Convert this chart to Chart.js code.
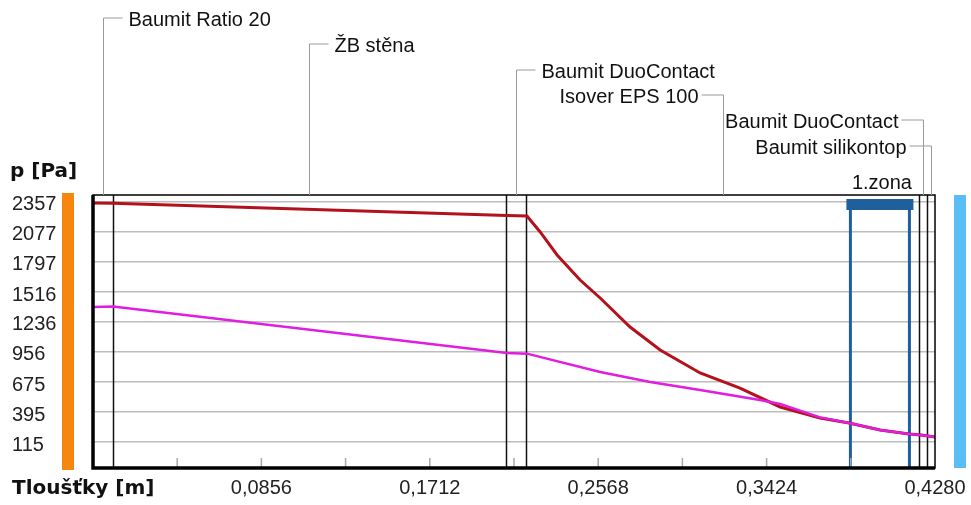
<!DOCTYPE html>
<html>
<head>
<meta charset="utf-8">
<script src="https://cdn.jsdelivr.net/npm/chart.js@4.4.1/dist/chart.umd.min.js"></script>
<style>
  html, body { margin: 0; padding: 0; background: #fff; }
  #wrap { width: 971px; height: 505px; }
</style>
</head>
<body>
<div id="wrap"><canvas id="chart" width="971" height="505"></canvas></div>
<script>
// thickness axis [m]
const xMax = 0.428;
const xTicks = [0.0856, 0.1712, 0.2568, 0.3424, 0.428];
const xMinor = [0.0428, 0.0856, 0.1284, 0.1712, 0.214, 0.2568, 0.2996, 0.3424, 0.3852];
// pressure axis [Pa]
const yTicks = [115, 395, 675, 956, 1236, 1516, 1797, 2077, 2357];

// saturated vapour pressure (red)
const satX = [0, 0.0102, 0.2104, 0.2206, 0.2273, 0.2359, 0.2476, 0.2578, 0.2730, 0.2883, 0.3086, 0.3289, 0.3493, 0.3696, 0.3843, 0.4001, 0.4148, 0.4209, 0.428];
const satP = [2348, 2345, 2230, 2226, 2077, 1862, 1628, 1460, 1189, 974, 760, 619, 442, 339, 292, 227, 190, 180, 162];

// partial vapour pressure (magenta)
const parX = [0, 0.0102, 0.2104, 0.2206, 0.2578, 0.2832, 0.3086, 0.3391, 0.3493, 0.3696, 0.3843, 0.4001, 0.4148, 0.4209, 0.428];
const parP = [1376, 1380, 946, 940, 769, 675, 601, 507, 470, 345, 292, 227, 190, 180, 162];

// layers
const layerBounds = [0, 0.010, 0.210, 0.220, 0.420, 0.424, 0.428];
const layerNames = ['Baumit Ratio 20', 'ŽB stěna', 'Baumit DuoContact', 'Isover EPS 100', 'Baumit DuoContact', 'Baumit silikontop'];

// condensation zone
const zoneFrom = 0.385;
const zoneTo = 0.415;
const zoneName = '1.zona';

const toPoints = (xs, ys) => xs.map((x, i) => ({ x: x, y: ys[i] }));

const labelFont = '20px "Liberation Sans", Arial, sans-serif';
const boldFont = 'bold 20px "DejaVu Sans", Verdana, sans-serif';

const decor = {
  id: 'decor',
  beforeDatasetsDraw(chart) {
    const { ctx, chartArea: a, scales: { x } } = chart;
    ctx.save();
    // layer boundaries
    ctx.strokeStyle = '#111';
    ctx.lineWidth = 1.5;
    layerBounds.slice(1, -1).forEach(b => {
      const px = Math.round(x.getPixelForValue(b)) + 0.5;
      ctx.beginPath();
      ctx.moveTo(px, a.top);
      ctx.lineTo(px, a.bottom);
      ctx.stroke();
    });
    // zone lines
    ctx.strokeStyle = '#1f5f9b';
    ctx.lineWidth = 3;
    [zoneFrom, zoneTo].forEach(z => {
      const px = x.getPixelForValue(z);
      ctx.beginPath();
      ctx.moveTo(px, a.top + 4);
      ctx.lineTo(px, a.bottom);
      ctx.stroke();
    });
    // minor ticks on bottom
    ctx.strokeStyle = '#aaa';
    ctx.lineWidth = 1.5;
    xMinor.forEach(t => {
      const px = x.getPixelForValue(t);
      ctx.beginPath();
      ctx.moveTo(px, a.bottom);
      ctx.lineTo(px, a.bottom - 10);
      ctx.stroke();
    });
    ctx.restore();
  },
  afterDraw(chart) {
    const { ctx, chartArea: a, scales: { x } } = chart;
    ctx.save();
    // frame
    ctx.strokeStyle = '#000';
    ctx.lineWidth = 1.5;
    ctx.strokeRect(a.left, a.top, a.right - a.left, a.bottom - a.top);
    ctx.lineWidth = 3.5;
    ctx.beginPath();
    ctx.moveTo(a.left, a.top);
    ctx.lineTo(a.left, a.bottom);
    ctx.lineTo(a.right, a.bottom);
    ctx.stroke();

    // zone bar
    const z1 = x.getPixelForValue(zoneFrom), z2 = x.getPixelForValue(zoneTo);
    ctx.fillStyle = '#1f5f9b';
    ctx.fillRect(z1 - 4, a.top + 4, z2 - z1 + 8, 11);

    // side bars
    ctx.fillStyle = '#f7860f';
    ctx.fillRect(a.left - 31, a.top - 2, 12, a.bottom - a.top + 4);
    ctx.fillStyle = '#5bbdf5';
    ctx.fillRect(a.right + 19, a.top, 12, a.bottom - a.top);

    // axis titles
    ctx.fillStyle = '#111';
    ctx.font = boldFont;
    ctx.textAlign = 'left';
    ctx.textBaseline = 'alphabetic';
    ctx.fillText('p [Pa]', 10, 177);
    ctx.fillText('Tloušťky [m]', 12, 494);

    // layer labels with leader lines
    const rows = [20, 46, 72, 97, 122, 148];
    const sides = ['r', 'r', 'r', 'l', 'l', 'l'];
    ctx.font = labelFont;
    ctx.textBaseline = 'middle';
    layerNames.forEach((name, i) => {
      const lx = Math.round(x.getPixelForValue((layerBounds[i] + layerBounds[i + 1]) / 2)) + 0.5;
      const ly = rows[i];
      ctx.strokeStyle = '#9a9a9a';
      ctx.lineWidth = 1;
      ctx.beginPath();
      ctx.moveTo(lx, a.top);
      ctx.lineTo(lx, ly - 2);
      if (sides[i] === 'r') ctx.lineTo(lx + 19, ly - 2);
      else ctx.lineTo(lx - 22, ly - 2);
      ctx.stroke();
      ctx.fillStyle = '#111';
      if (sides[i] === 'r') {
        ctx.textAlign = 'left';
        ctx.fillText(name, lx + 25, ly);
      } else {
        ctx.textAlign = 'right';
        ctx.fillText(name, lx - 25, ly);
      }
    });
    ctx.textAlign = 'center';
    ctx.fillText(zoneName, (z1 + z2) / 2 + 2, 183);
    ctx.restore();
  }
};

new Chart(document.getElementById('chart'), {
  type: 'line',
  data: {
    datasets: [
      {
        label: 'p',
        data: toPoints(parX, parP),
        borderColor: '#e01ee0',
        borderWidth: 2.5,
        pointRadius: 0,
        tension: 0
      },
      {
        label: 'p,sat',
        data: toPoints(satX, satP),
        borderColor: '#b3121c',
        borderWidth: 3,
        pointRadius: 0,
        tension: 0
      }
    ]
  },
  options: {
    responsive: false,
    animation: false,
    devicePixelRatio: 1,
    layout: { padding: { left: 12, top: 195, right: 36, bottom: 0 } },
    plugins: { legend: { display: false }, tooltip: { enabled: false } },
    scales: {
      x: {
        type: 'linear',
        min: 0,
        max: xMax,
        afterBuildTicks: s => { s.ticks = xTicks.map(v => ({ value: v })); },
        afterFit: s => { s.height = 37; },
        grid: { display: false },
        border: { display: false },
        ticks: {
          padding: 0,
          maxRotation: 0,
          autoSkip: false,
          color: '#222',
          font: { family: '"Liberation Sans", Arial, sans-serif', size: 20 },
          callback: v => v.toFixed(4).replace('.', ',')
        }
      },
      y: {
        min: -128,
        max: 2422,
        afterBuildTicks: s => { s.ticks = yTicks.map(v => ({ value: v })); },
        afterFit: s => { s.width = 81; },
        grid: { color: '#bdbdbd', lineWidth: 1.5, drawTicks: false },
        border: { display: false },
        ticks: {
          padding: 0,
          crossAlign: 'far',
          labelOffset: 3,
          autoSkip: false,
          color: '#222',
          font: { family: '"Liberation Sans", Arial, sans-serif', size: 20 },
          callback: v => String(v)
        }
      }
    }
  },
  plugins: [decor]
});
</script>
</body>
</html>
